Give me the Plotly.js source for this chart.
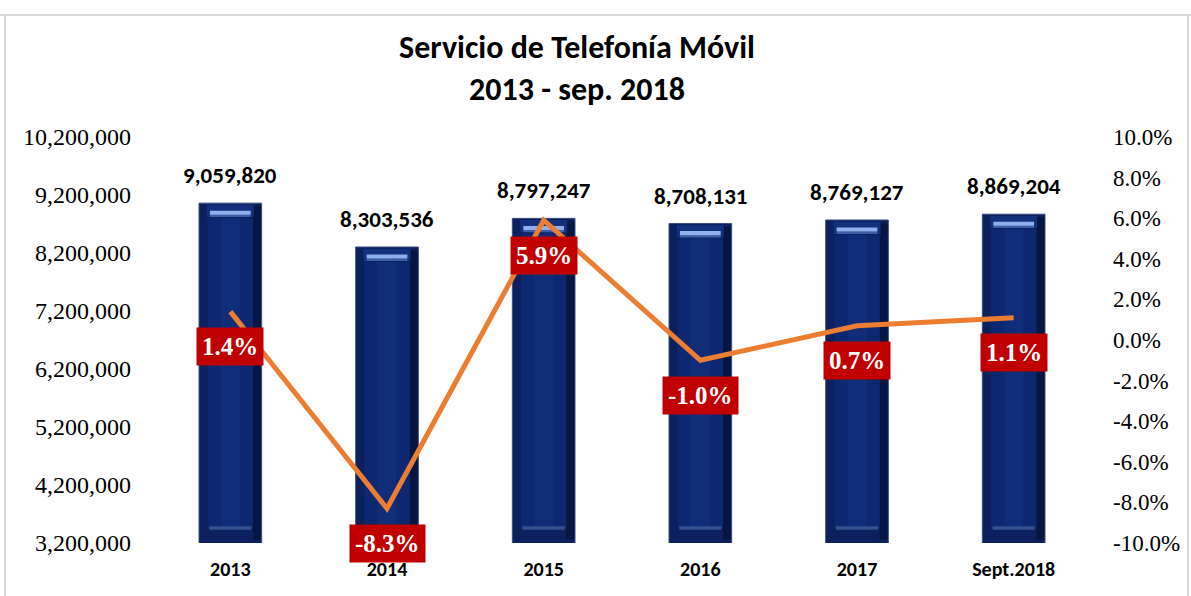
<!DOCTYPE html>
<html>
<head>
<meta charset="utf-8">
<script src="https://cdn.plot.ly/plotly-3.0.1.min.js"></script>
<style>html,body{margin:0;padding:0;background:#fff;}#chart{width:1191px;height:596px;}</style>
</head>
<body>
<div id="chart"></div>
<script>
const categories = ['2013', '2014', '2015', '2016', '2017', 'Sept.2018'];
const subscribers = [9059820, 8303536, 8797247, 8708131, 8769127, 8869204];
const growth = [0.014, -0.083, 0.059, -0.010, 0.007, 0.011];
const leftTickVals = [3200000, 4200000, 5200000, 6200000, 7200000, 8200000, 9200000, 10200000];
const rightTickVals = [-0.10, -0.08, -0.06, -0.04, -0.02, 0, 0.02, 0.04, 0.06, 0.08, 0.10];
const rightTickText = ['-10.0%', '-8.0%', '-6.0%', '-4.0%', '-2.0%', '0.0%', '2.0%', '4.0%', '6.0%', '8.0%', '10.0%'];

const yMin = 3200000, yMax = 10200000;
const bevel = 260000;
const sansBold = "Carlito, 'Liberation Sans Narrow', Lato, 'Open Sans', sans-serif";
const serif = "'Liberation Serif', 'Times New Roman', serif";

function barLayer(base, height, width, color, offset) {
  const t = {
    type: 'bar', x: categories, base: base, y: height, width: width,
    marker: {color: color, line: {width: 0}},
    hoverinfo: 'skip', showlegend: false
  };
  if (offset !== undefined) t.offset = offset;
  return t;
}

const outer = {
  type: 'bar', x: categories, y: subscribers, width: 0.40,
  marker: {color: '#0b205c', line: {color: '#3a4f85', width: 1}},
  hoverinfo: 'skip', showlegend: false
};
const innerBase = subscribers.map(() => yMin + bevel);
const innerHeight = subscribers.map(v => v - 2 * bevel - yMin);
const rightEdge = barLayer(subscribers.map(() => yMin + 60000), subscribers.map(v => v - yMin - 120000), 0.05, '#061640', 0.145);
const face = barLayer(innerBase, innerHeight, 0.29, '#0d2870');
const faceCenter = barLayer(innerBase, innerHeight, 0.12, '#102d7a');
const topBevel = barLayer(subscribers.map(v => v - bevel + 20000), subscribers.map(() => bevel - 50000), 0.30, '#12307c');
const topHi = barLayer(subscribers.map(v => v - 200000), subscribers.map(() => 70000), 0.26, '#8fb0ea');
const topHi2 = barLayer(subscribers.map(v => v - 240000), subscribers.map(() => 40000), 0.26, '#3d5ea6');
const botHi = barLayer(subscribers.map(() => yMin + 230000), subscribers.map(() => 60000), 0.27, '#34508f');

const line = {
  type: 'scatter', mode: 'lines', x: categories, y: growth, yaxis: 'y2',
  line: {color: '#ED7D31', width: 5},
  hoverinfo: 'skip', showlegend: false
};

const annotations = [];
categories.forEach((c, i) => {
  annotations.push({
    x: i, y: subscribers[i], xref: 'x', yref: 'y',
    text: '<b>' + subscribers[i].toLocaleString('en-US') + '</b>',
    showarrow: false, yanchor: 'bottom', yshift: 12,
    font: {family: sansBold, size: 23, color: '#000'}
  });
  annotations.push({
    x: i, y: growth[i], xref: 'x', yref: 'y2',
    text: '<b>' + (growth[i] * 100).toFixed(1) + '%</b>',
    showarrow: false, yanchor: 'middle', yshift: -35,
    bgcolor: '#C00000', borderpad: 5,
    font: {family: serif, size: 25, color: '#fff'}
  });
});

const L = 152, R = 99, T = 137, B = 53, W = 1191, H = 596;
const pw = W - L - R, ph = H - T - B;
const px = x => (x - L) / pw;
const py = y => (H - B - y) / ph;
const borderStyle = {color: '#d9d9d9', width: 2};

const layout = {
  width: W, height: H,
  margin: {l: L, r: R, t: T, b: B},
  paper_bgcolor: '#fff', plot_bgcolor: 'rgba(0,0,0,0)',
  barmode: 'overlay',
  title: {
    text: '<b>Servicio de Telefonía Móvil</b><br><b>2013 - sep. 2018</b>',
    x: 577 / W, xanchor: 'center', y: 1 - 58 / H, yanchor: 'middle',
    font: {family: sansBold, size: 32, color: '#000'}
  },
  xaxis: {
    type: 'category', categoryorder: 'array', categoryarray: categories,
    range: [-0.5, categories.length - 0.5], autorange: false,
    showgrid: false, zeroline: false, showline: false,
    ticks: '', ticklabelstandoff: 12,
    tickvals: categories, ticktext: categories.map(c => '<b>' + c + '</b>'),
    tickfont: {family: sansBold, size: 20, color: '#000'}
  },
  yaxis: {
    range: [yMin, yMax], tickvals: leftTickVals, tickformat: ',',
    showgrid: false, zeroline: false, showline: false, ticks: '',
    ticklabelstandoff: 20,
    tickfont: {family: serif, size: 24, color: '#000'}
  },
  yaxis2: {
    overlaying: 'y', side: 'right', range: [-0.10, 0.10],
    tickvals: rightTickVals, ticktext: rightTickText,
    showgrid: false, zeroline: false, showline: false, ticks: '',
    ticklabelstandoff: 20,
    tickfont: {family: serif, size: 23, color: '#000'}
  },
  annotations: annotations,
  shapes: [
    {type: 'line', xref: 'paper', yref: 'paper', x0: px(5), x1: px(5), y0: py(15), y1: py(600), line: borderStyle},
    {type: 'line', xref: 'paper', yref: 'paper', x0: px(1188), x1: px(1188), y0: py(15), y1: py(600), line: borderStyle},
    {type: 'line', xref: 'paper', yref: 'paper', x0: px(-5), x1: px(1196), y0: py(15), y1: py(15), line: borderStyle}
  ]
};

Plotly.newPlot('chart', [outer, rightEdge, topBevel, face, faceCenter, topHi2, topHi, botHi, line], layout, {displayModeBar: false, staticPlot: true});
</script>
</body>
</html>
